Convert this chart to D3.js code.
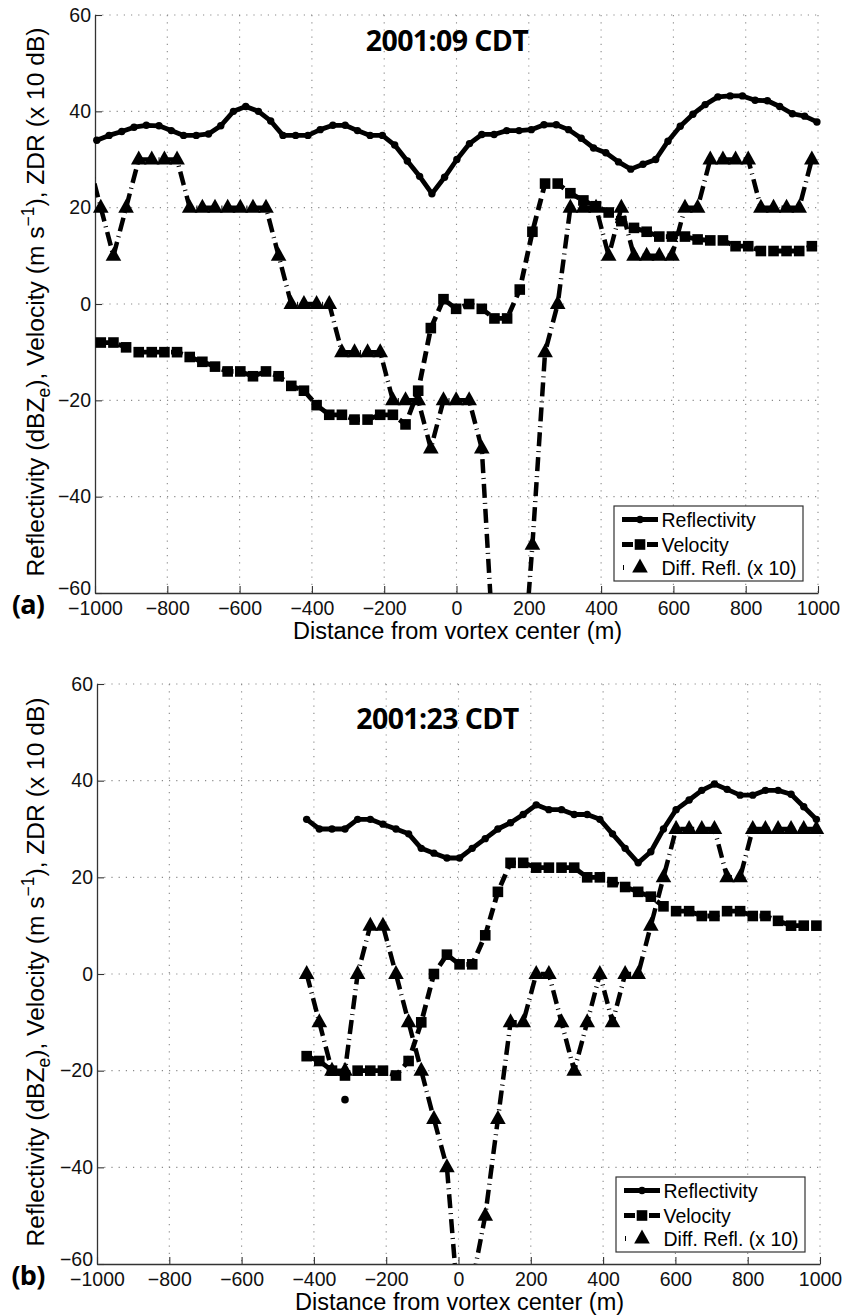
<!DOCTYPE html>
<html><head><meta charset="utf-8">
<script src="https://cdn.jsdelivr.net/npm/d3@7"></script>
<style>body{margin:0;background:#fff}svg{display:block}</style>
</head><body>
<svg id="c" width="844" height="1315"></svg>
<script>
// ---------- shared labels / ticks ----------
const X_TICKS = [-1000,-800,-600,-400,-200,0,200,400,600,800,1000];
const Y_TICKS = [-60,-40,-20,0,20,40,60];
const LEGEND_LABELS = ["Reflectivity","Velocity","Diff. Refl. (x 10)"];
const TITLES = ["2001:09 CDT","2001:23 CDT"];
const TAGS = ["(a)","(b)"];
const X_LABEL = "Distance from vortex center (m)";

// ---------- panel (a) data ----------
const reflA_x = [-995,-961,-926,-892,-858,-823,-789,-755,-720,-686,-652,-617,-583,-548,-514,-480,-445,-411,-377,-342,
  -308,-274,-239,-205,-171,-136,-102,-68,-33,1,36,70,104,139,173,207,242,276,310,345,
  379,413,448,482,516,551,585,619,654,688,723,757,791,826,860,894,929,963,997];
const reflA = [34,35,35.8,36.7,37.1,37,36,35,35,35.3,37,40,41,40,38,35,35,35,36.2,37.1,
  37.1,36,35,35,33,29.7,26.5,22.9,26.3,30,33.3,35.2,35.2,36,36,36.2,37.2,37.2,36.2,34.4,
  32.4,31.4,29.5,28,29,30,33.8,36.9,39.4,41.4,43,43.2,43.2,42.3,42.2,41,39.5,39,37.8];
const distA = [-984,-949,-914,-879,-843,-808,-773,-738,-703,-668,-633,-598,-563,-527,-492,-457,-422,-387,-352,-317,
  -282,-246,-211,-176,-141,-106,-71,-36,-1,35,70,105,140,175,210,245,280,315,351,386,
  421,456,491,526,561,596,632,667,702,737,772,807,842,877,913,948,983];
const velA = [-8,-8,-9,-10,-10,-10,-10,-11,-12,-13,-14,-14,-15,-14,-15,-17,-18,-21,-23,-23,
  -24,-24,-23,-23,-25,-18,-5,1,-1,0,-1,-3,-3,3,15,25,25,23,21.5,20.3,
  19,17.2,15.8,15,14,14,14,13.4,13.2,13.2,12,12,11,11,11,11,12];
const zdrA_x = [-1019].concat(distA);
const zdrA = [30,20,10,20,30,30,30,30,20,20,20,20,20,20,20,10,0,0,0,0,-10,
  -10,-10,-10,-20,-20,-20,-30,-20,-20,-20,-30,-75,-90,-85,-50,-10,0,20,20,20,
  10,20,10,10,10,10,20,20,30,30,30,30,20,20,20,20,30];

// ---------- panel (b) data ----------
const distB = [-420,-385,-350,-314,-279,-244,-209,-173,-138,-103,-68,-32,3,38,74,109,144,179,215,250,
  285,320,356,391,426,461,497,532,567,602,638,673,708,743,779,814,849,884,920,955,990];
const reflB = [32,30,30,30,32,32,31,30,29,26,25,24,24,26,28,30,31.3,33,35,34,
  34,33,33,32,29,26,23,25.3,30,34,36,38,39.3,38.2,37,37,38,38,37.2,34.6,32];
const velB = [-17,-18,-20,-21,-20,-20,-20,-21,-18,-10,0,4,2,2,8,17,23,23,22,22,
  22,22,20,20,19,18,17,16,14,13,13,12,12,13,13,12,12,11,10,10,10];
const zdrB = [0,-10,-20,-20,0,10,10,0,-10,-20,-30,-40,-72,-64,-50,-30,-10,-10,0,0,
  -10,-20,-10,0,-10,0,0,10,20,30,30,30,30,20,20,30,30,30,30,30,30];
const strayB_x = [-314];
const strayB = [-26];

// ---------- drawing ----------
const svg = d3.select("#c");
const TICK_FONT = "19.5px 'Liberation Sans', Arial, sans-serif";
const LAB_FONT = "'Liberation Sans', Arial, sans-serif";
const TITLE_FONT = "'Open Sans', 'Noto Sans', sans-serif";
const LW = 4.8;
const VEL_DASH = "12,6";
const ZDR_DASH = "14,5,1,5";
const triPath = "M0,-9L7.8,5L-7.8,5Z";
const fmt = d => d < 0 ? "\u2212" + Math.abs(d) : String(d);

function zip(xs, vs){ return xs.map((d,i)=>[d, vs[i]]); }

function panel(cfg){
  const g = svg.append("g");
  const x = d3.scaleLinear().domain([-1000,1000]).range([cfg.left,cfg.right]);
  const y = d3.scaleLinear().domain([-60,60]).range([cfg.bottom,cfg.top]);
  const cid = "clip" + cfg.id;
  svg.append("clipPath").attr("id",cid).append("rect")
    .attr("x",cfg.left).attr("y",cfg.top).attr("width",cfg.right-cfg.left).attr("height",cfg.bottom-cfg.top);

  // grid
  const grid = g.append("g").attr("stroke","#8a8a8a").attr("stroke-width",1.1).attr("stroke-dasharray","1.2,6");
  grid.selectAll("line.v").data(X_TICKS.filter(d=>d>-1000)).join("line").attr("class","v")
    .attr("x1",d=>x(d)).attr("x2",d=>x(d)).attr("y1",cfg.top).attr("y2",cfg.bottom);
  grid.selectAll("line.h").data(Y_TICKS.filter(d=>d>-60)).join("line").attr("class","h")
    .attr("x1",cfg.left).attr("x2",cfg.right).attr("y1",d=>y(d)).attr("y2",d=>y(d));

  // axes
  const ax = g.append("g").attr("transform",`translate(0,${cfg.bottom})`)
    .call(d3.axisBottom(x).tickValues(X_TICKS).tickFormat(fmt).tickSizeInner(-7).tickSizeOuter(0).tickPadding(8.5));
  const ay = g.append("g").attr("transform",`translate(${cfg.left},0)`)
    .call(d3.axisLeft(y).tickValues(Y_TICKS).tickFormat(fmt).tickSizeInner(-7).tickSizeOuter(0).tickPadding(4));
  [ax,ay].forEach(a=>{
    a.select(".domain").attr("stroke","#333").attr("stroke-width",1.3);
    a.selectAll(".tick line").attr("stroke","#333").attr("stroke-width",1.1);
    a.selectAll(".tick text").style("font",TICK_FONT).attr("fill","#111");
  });
  // lift the bottom-most y label slightly so it sits just above the x tick labels
  ay.selectAll(".tick text").filter(d=>d===-60).attr("dy","0.1em");

  // series
  const line = d3.line().x(d=>x(d[0])).y(d=>y(d[1]));
  const inside = d=> d[1]>=-60 && d[1]<=60 && d[0]>=-1000 && d[0]<=1000;
  const plot = g.append("g");
  const lines = plot.append("g").attr("clip-path",`url(#${cid})`).attr("fill","none").attr("stroke","#000")
    .attr("stroke-width",LW).attr("stroke-linejoin","round");

  const refl = zip(cfg.reflX, cfg.refl);
  lines.append("path").attr("d",line(refl)).attr("stroke-linecap","round");
  plot.append("g").selectAll("circle").data(refl.filter(inside)).join("circle")
    .attr("cx",d=>x(d[0])).attr("cy",d=>y(d[1])).attr("r",3.7).attr("fill","#000");

  const vel = zip(cfg.velX, cfg.vel);
  lines.append("path").attr("d",line(vel)).attr("stroke-dasharray",VEL_DASH);
  plot.append("g").selectAll("rect").data(vel.filter(inside)).join("rect")
    .attr("x",d=>x(d[0])-5.3).attr("y",d=>y(d[1])-5.3).attr("width",10.6).attr("height",10.6).attr("fill","#000");

  const zdr = zip(cfg.zdrX, cfg.zdr);
  lines.append("path").attr("d",line(zdr)).attr("stroke-dasharray",ZDR_DASH).attr("stroke-width",LW-0.3);
  plot.append("g").selectAll("path").data(zdr.filter(inside)).join("path")
    .attr("d",triPath).attr("transform",d=>`translate(${x(d[0])},${y(d[1])})`).attr("fill","#000");

  if (cfg.strayX) {
    plot.append("g").selectAll("circle").data(zip(cfg.strayX,cfg.stray)).join("circle")
      .attr("cx",d=>x(d[0])).attr("cy",d=>y(d[1])).attr("r",3.8).attr("fill","#000");
  }

  // title
  g.append("text").attr("x",cfg.titleX).attr("y",cfg.titleY).attr("text-anchor","middle")
    .style("font-family",TITLE_FONT).style("font-weight","700").style("font-size","28.5px")
    .style("letter-spacing","-0.6px").text(cfg.title);

  // x label
  g.append("text").attr("x",(cfg.left+cfg.right)/2+1).attr("y",cfg.bottom+46).attr("text-anchor","middle")
    .style("font-family",LAB_FONT).style("font-size","23.5px").text(X_LABEL);

  // y label
  const cy = (cfg.top+cfg.bottom)/2 - 2;
  const yl = g.append("text").attr("transform",`translate(43.5,${cy}) rotate(-90)`).attr("text-anchor","middle")
    .style("font-family",LAB_FONT).style("font-size","24.6px");
  yl.append("tspan").text("Reflectivity (dBZ");
  yl.append("tspan").attr("dy",6).style("font-size","17.5px").text("e");
  yl.append("tspan").attr("dy",-6).text("), Velocity (m s");
  yl.append("tspan").attr("dy",-10).style("font-size","17.5px").text("\u22121");
  yl.append("tspan").attr("dy",10).text("), ZDR (x 10 dB)");

  // tag
  g.append("text").attr("x",28).attr("y",cfg.bottom+20.5).attr("text-anchor","middle")
    .style("font-family",TITLE_FONT).style("font-weight","700").style("font-size","27px")
    .style("letter-spacing","-0.8px").text(cfg.tag);

  // legend
  const lw = 189, lh = 75;
  const lx = cfg.right - 15 - lw, ly = cfg.bottom - 12 - lh;
  const L = g.append("g").attr("transform",`translate(${lx},${ly})`);
  L.append("rect").attr("x",0).attr("y",0).attr("width",lw).attr("height",lh)
    .attr("fill","#fff").attr("stroke","#333").attr("stroke-width",1.2);
  const rows = [13.5, 38.5, 61.5];
  const sx0 = 8, sx1 = 44, mx = 26;
  // reflectivity
  L.append("line").attr("x1",sx0).attr("x2",sx1).attr("y1",rows[0]).attr("y2",rows[0])
    .attr("stroke","#000").attr("stroke-width",LW);
  L.append("circle").attr("cx",mx).attr("cy",rows[0]).attr("r",3.7).attr("fill","#000");
  // velocity
  L.append("line").attr("x1",sx0).attr("x2",sx1).attr("y1",rows[1]).attr("y2",rows[1])
    .attr("stroke","#000").attr("stroke-width",LW).attr("stroke-dasharray","11,4,6,4,11");
  L.append("rect").attr("x",mx-5.3).attr("y",rows[1]-5.3).attr("width",10.6).attr("height",10.6).attr("fill","#000");
  // zdr
  L.append("line").attr("x1",sx0+1).attr("x2",sx1-7).attr("y1",rows[2]).attr("y2",rows[2])
    .attr("stroke","#000").attr("stroke-width",LW).attr("stroke-dasharray","1,27,1");
  L.append("path").attr("d",triPath).attr("transform",`translate(${mx},${rows[2]})`).attr("fill","#000");
  L.selectAll("text").data(LEGEND_LABELS).join("text")
    .attr("x",47.5).attr("y",(d,i)=>rows[i]+7)
    .style("font-family",LAB_FONT).style("font-size","19.5px").text(d=>d);
}

panel({id:"a", left:95, right:818, top:15, bottom:593,
  reflX:reflA_x, refl:reflA, velX:distA, vel:velA, zdrX:zdrA_x, zdr:zdrA,
  title:TITLES[0], titleX:447, titleY:51, tag:TAGS[0]});
panel({id:"b", left:97, right:820, top:684, bottom:1264,
  reflX:distB, refl:reflB, velX:distB, vel:velB, zdrX:distB, zdr:zdrB,
  strayX:strayB_x, stray:strayB,
  title:TITLES[1], titleX:437.5, titleY:728.5, tag:TAGS[1]});
</script>
</body></html>
